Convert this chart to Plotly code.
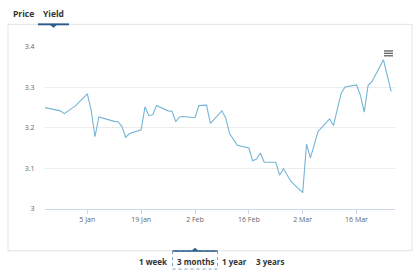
import plotly.graph_objects as go

dates = ["2025-12-25", "2025-12-29", "2025-12-30", "2026-01-02", "2026-01-05", "2026-01-06",
         "2026-01-07", "2026-01-08", "2026-01-12", "2026-01-13", "2026-01-14", "2026-01-15",
         "2026-01-16", "2026-01-19", "2026-01-20", "2026-01-21", "2026-01-22", "2026-01-23",
         "2026-01-26", "2026-01-27", "2026-01-28", "2026-01-29", "2026-01-30", "2026-02-02",
         "2026-02-03", "2026-02-05", "2026-02-06", "2026-02-09", "2026-02-10", "2026-02-11",
         "2026-02-13", "2026-02-16", "2026-02-17", "2026-02-18", "2026-02-19", "2026-02-20",
         "2026-02-23", "2026-02-24", "2026-02-25", "2026-02-27", "2026-03-02", "2026-03-03",
         "2026-03-04", "2026-03-06", "2026-03-09", "2026-03-10", "2026-03-12", "2026-03-13",
         "2026-03-16", "2026-03-17", "2026-03-18", "2026-03-19", "2026-03-20", "2026-03-23",
         "2026-03-25"]
yields = [3.250, 3.242, 3.235, 3.255, 3.284, 3.244,
          3.178, 3.227, 3.216, 3.215, 3.203, 3.177,
          3.186, 3.195, 3.252, 3.230, 3.232, 3.255,
          3.242, 3.241, 3.216, 3.227, 3.228, 3.225,
          3.255, 3.256, 3.211, 3.242, 3.224, 3.186,
          3.157, 3.150, 3.119, 3.123, 3.138, 3.115,
          3.115, 3.083, 3.099, 3.067, 3.040, 3.160,
          3.126, 3.191, 3.222, 3.206, 3.285, 3.301,
          3.306, 3.281, 3.239, 3.305, 3.314, 3.368,
          3.290]
y_ticks = [3.0, 3.1, 3.2, 3.3, 3.4]
y_tick_labels = ["3", "3.1", "3.2", "3.3", "3.4"]
tabs = ["Price", "Yield"]
ranges = ["1 week", "3 months", "1 year", "3 years"]

W, H = 420, 275
def px(x):
    return x / W
def py(y):
    return 1 - y / H

fig = go.Figure()
fig.add_trace(go.Scatter(x=dates, y=yields, mode="lines",
                         line=dict(color="#74b4d6", width=1.1),
                         hoverinfo="skip", showlegend=False))

font = "Open Sans, Liberation Sans, sans-serif"
fig.update_layout(
    width=W, height=H, margin=dict(l=0, r=0, t=0, b=0),
    paper_bgcolor="white", plot_bgcolor="white",
    font=dict(family=font, color="#666", size=7),
    xaxis=dict(domain=[px(45), px(395)],
               range=["2025-12-25", "2026-03-26"],
               type="date", tick0="2026-01-05", dtick=14 * 86400000,
               tickformat="%-d %b", showgrid=False, zeroline=False,
               showline=True, linecolor="#ccd6eb", linewidth=1,
               ticks="outside", ticklen=4, tickcolor="#ccd6eb",
               tickfont=dict(size=7, color="#666")),
    yaxis=dict(domain=[py(210.7), py(43.3)], range=[3.0, 3.4],
               tickvals=y_ticks, ticktext=y_tick_labels,
               showgrid=True, gridcolor="#ececec", gridwidth=1,
               zeroline=False, showline=False,
               ticks="outside", ticklen=8, tickcolor="rgba(0,0,0,0)",
               tickfont=dict(size=7, color="#666")),
)

shapes = []
border = "#e3e3e3"
# outer box
shapes.append(dict(type="line", xref="paper", yref="paper", x0=px(8), x1=px(412), y0=py(20), y1=py(20), line=dict(color=border, width=1)))
shapes.append(dict(type="line", xref="paper", yref="paper", x0=px(8), x1=px(8), y0=py(20), y1=py(254), line=dict(color=border, width=1)))
shapes.append(dict(type="line", xref="paper", yref="paper", x0=px(412), x1=px(412), y0=py(20), y1=py(254), line=dict(color=border, width=1)))
shapes.append(dict(type="line", xref="paper", yref="paper", x0=px(8), x1=px(412), y0=py(254), y1=py(254), line=dict(color=border, width=1)))
# selected tab underline
blue = "#2a5d8a"
shapes.append(dict(type="rect", xref="paper", yref="paper", x0=px(38), x1=px(69), y0=py(21), y1=py(19), fillcolor=blue, line=dict(width=0)))
shapes.append(dict(type="path", xref="paper", yref="paper",
                   path=f"M {px(50)},{py(20.5)} L {px(57)},{py(20.5)} L {px(53.5)},{py(23.5)} Z",
                   fillcolor=blue, line=dict(width=0)))
# selected range button
shapes.append(dict(type="rect", xref="paper", yref="paper", x0=px(172.5), x1=px(217.5), y0=py(273), y1=py(254.5),
                   line=dict(color="#7d9fc0", width=1, dash="dot")))
shapes.append(dict(type="rect", xref="paper", yref="paper", x0=px(172.5), x1=px(217.5), y0=py(255), y1=py(253.5), fillcolor=blue, line=dict(width=0)))
shapes.append(dict(type="path", xref="paper", yref="paper",
                   path=f"M {px(191.5)},{py(254)} L {px(198.5)},{py(254)} L {px(195)},{py(251)} Z",
                   fillcolor=blue, line=dict(width=0)))
# menu icon
for yy in (47.5, 50, 52.5):
    shapes.append(dict(type="rect", xref="paper", yref="paper", x0=px(384), x1=px(393), y0=py(yy + 0.7), y1=py(yy - 0.7),
                       fillcolor="#666", line=dict(width=0)))
fig.update_layout(shapes=shapes)

ann = []
tab_x = [23, 53.5]
for t, x in zip(tabs, tab_x):
    ann.append(dict(text=f"<b>{t}</b>", x=px(x), y=py(8.5), xref="paper", yref="paper",
                    showarrow=False, font=dict(size=8.5, color="#333", family=font), xanchor="center", yanchor="middle"))
range_x = [153, 195, 234.5, 269.5]
for t, x in zip(ranges, range_x):
    ann.append(dict(text=f"<b>{t}</b>", x=px(x), y=py(265), xref="paper", yref="paper",
                    showarrow=False, font=dict(size=8, color="#333", family=font), xanchor="center", yanchor="middle"))
fig.update_layout(annotations=ann)

fig.write_html("out.html", config={"displayModeBar": False})
